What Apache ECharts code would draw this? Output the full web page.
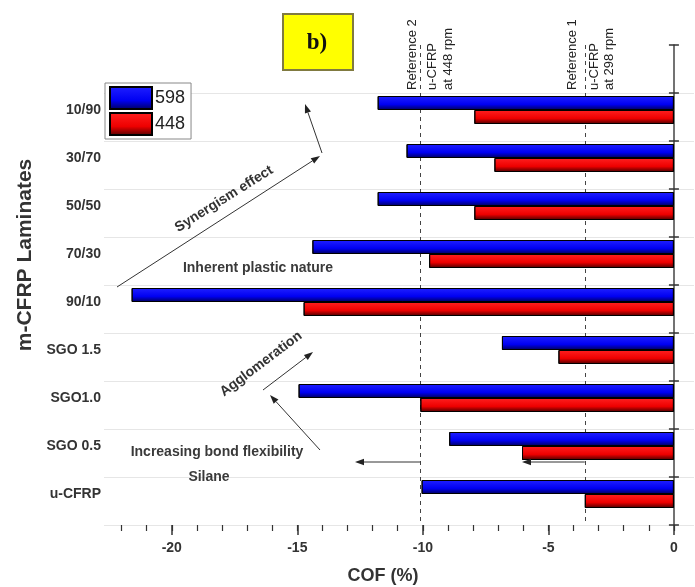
<!DOCTYPE html>
<html>
<head>
<meta charset="utf-8">
<script src="https://cdn.jsdelivr.net/npm/echarts@6/dist/echarts.min.js"></script>
<style>html,body{margin:0;padding:0;background:#fff;}#c{width:695px;height:587px;}</style>
</head>
<body>
<div id="c"></div>
<script>
// ---- data ----
const categories = ['10/90', '30/70', '50/50', '70/30', '90/10', 'SGO 1.5', 'SGO1.0', 'SGO 0.5', 'u-CFRP'];
const cof598 = [-11.8, -10.65, -11.8, -14.4, -21.6, -6.85, -14.95, -8.95, -10.05];
const cof448 = [-7.95, -7.15, -7.95, -9.75, -14.75, -4.6, -10.1, -6.05, -3.55];
const seriesNames = ['598', '448'];
const xMajorTicks = [-20, -15, -10, -5, 0];
const xMinorTicks = [-22, -21, -20, -19, -18, -17, -16, -15, -14, -13, -12, -11, -10, -9, -8, -7, -6, -5, -4, -3, -2, -1, 0];
const referenceValues = [-10.1, -3.55];
const referenceTexts = [
  ['Reference 2', 'u-CFRP', 'at 448 rpm'],
  ['Reference 1', 'u-CFRP', 'at 298 rpm']
];

// ---- chart ----
const FONT = '"Liberation Sans", Arial, sans-serif';
const yCats = [''].concat(categories);
const d598 = [null].concat(cof598);
const d448 = [null].concat(cof448);
const spacer = yCats.map(() => null);

function grad(c0, c1, c2) {
  return { type: 'linear', x: 0, y: 0, x2: 0, y2: 1,
    colorStops: [{ offset: 0, color: c0 }, { offset: 0.6, color: c1 }, { offset: 1, color: c2 }] };
}

const chart = echarts.init(document.getElementById('c'), null, { renderer: 'canvas' });

const option = {
  animation: false,
  backgroundColor: '#fff',
  textStyle: { fontFamily: FONT },
  grid: { left: 104, right: 1, top: 45, bottom: 62, containLabel: false },
  legend: {
    data: seriesNames,
    orient: 'vertical',
    left: 105, top: 83,
    itemWidth: 42, itemHeight: 22, itemGap: 2,
    padding: [3, 6, 3, 4],
    borderColor: '#888', borderWidth: 1,
    backgroundColor: '#fff',
    icon: 'rect',
    textStyle: { fontSize: 18, color: '#222', fontFamily: FONT, padding: [0, 0, 0, -2] }
  },
  xAxis: [
    {
      type: 'value', min: -22.7, max: 0.8, position: 'bottom',
      axisLine: { onZero: false, lineStyle: { color: '#333', width: 1.5 } },
      axisTick: { show: true, customValues: xMinorTicks, length: 6, lineStyle: { color: '#333', width: 1.2 } },
      axisLabel: { customValues: xMajorTicks, fontSize: 14, fontWeight: 'bold', color: '#333', margin: 16, fontFamily: FONT },
      splitLine: { show: false }
    },
    {
      type: 'value', min: -22.7, max: 0.8, position: 'bottom',
      axisLine: { show: false, onZero: false },
      axisTick: { show: true, customValues: xMajorTicks, length: 10, lineStyle: { color: '#333', width: 1.5 } },
      axisLabel: { show: false },
      splitLine: { show: false }
    }
  ],
  yAxis: [
    {
      type: 'category', data: yCats, inverse: true, position: 'left',
      axisLine: { show: false, onZero: false },
      axisTick: { show: false },
      axisLabel: { fontSize: 14, fontWeight: 'bold', color: '#333', margin: 3, verticalAlign: 'bottom', lineHeight: 14, fontFamily: FONT },
      splitLine: { show: true, interval: function (i) { return i > 0; }, lineStyle: { color: '#e6e6e6', width: 1 } }
    },
    {
      type: 'category', data: yCats, inverse: true, position: 'right',
      axisLine: { show: true, onZero: true, onZeroAxisIndex: 0, lineStyle: { color: '#444', width: 1.5 } },
      axisTick: { show: true, inside: false, length: 5, lineStyle: { color: '#333', width: 1.5 } },
      axisLabel: { show: false },
      splitLine: { show: false }
    },
    {
      type: 'category', data: yCats, inverse: true, position: 'right',
      axisLine: { show: false, onZero: true, onZeroAxisIndex: 0 },
      axisTick: { show: true, inside: true, length: 5, lineStyle: { color: '#333', width: 1.5 } },
      axisLabel: { show: false },
      splitLine: { show: false }
    }
  ],
  series: [
    {
      name: seriesNames[0], type: 'bar', data: d598, barWidth: 14, barGap: '0%', z: 3,
      itemStyle: { color: grad('#2020ff', '#0000f2', '#00005a'), borderColor: '#000', borderWidth: 1 }
    },
    {
      name: seriesNames[1], type: 'bar', data: d448, barWidth: 14, barGap: '0%', z: 3,
      itemStyle: { color: grad('#ff2020', '#ee0000', '#4a0000'), borderColor: '#000', borderWidth: 1 }
    },
    {
      name: 'spacer', type: 'bar', data: spacer, barWidth: 14, barGap: '0%', z: 1,
      itemStyle: { color: 'transparent' },
      markLine: {
        silent: true, symbol: 'none', z: 1,
        label: { show: false },
        lineStyle: { color: '#444', width: 1, type: [4, 4] },
        data: referenceValues.map(v => ({ xAxis: v }))
      }
    }
  ]
};
chart.setOption(option);

// ---- annotations ----
function px(v) { return chart.convertToPixel({ xAxisIndex: 0 }, v); }
function arrow(x1, y1, x2, y2) {
  const a = Math.atan2(y2 - y1, x2 - x1), L = 9, W = 3.2;
  const bx = x2 - L * Math.cos(a), by = y2 - L * Math.sin(a);
  return [
    { type: 'line', shape: { x1: x1, y1: y1, x2: bx, y2: by }, style: { stroke: '#333', lineWidth: 1 }, z: 10 },
    { type: 'polygon', shape: { points: [[x2, y2], [bx + W * Math.sin(a), by - W * Math.cos(a)], [bx - W * Math.sin(a), by + W * Math.cos(a)]] },
      style: { fill: '#222' }, z: 10 }
  ];
}
function txt(text, x, y, opts) {
  opts = opts || {};
  return {
    type: 'text', x: x, y: y, rotation: opts.rot || 0, z: 10,
    style: { text: text, fontSize: opts.size || 14, fontWeight: opts.weight || 'bold', fontFamily: opts.family || FONT,
      fill: opts.fill || '#333', align: opts.align || 'center', verticalAlign: 'middle' }
  };
}
const deg = Math.PI / 180;
const r2 = px(referenceValues[0]), r1 = px(referenceValues[1]);
let g = [];
// b) label
g.push({ type: 'rect', shape: { x: 283, y: 14, width: 70, height: 56 }, style: { fill: '#ffff00', stroke: '#807a40', lineWidth: 2 }, z: 10 });
g.push(txt('b)', 317, 43, { size: 23, family: '"Liberation Serif", "DejaVu Serif", serif', fill: '#111' }));
// reference texts
const refOffsets = [[-8, 12, 28], [-12, 10, 25]];
[r2, r1].forEach((r, k) => {
  referenceTexts[k].forEach((t, j) => {
    g.push(txt(t, r + refOffsets[k][j], 90, { rot: 90 * deg, align: 'left', size: 13, weight: 'normal', fill: '#222' }));
  });
});
// axis titles
g.push(txt('m-CFRP Laminates', 25, 255, { rot: 90 * deg, size: 21 }));
g.push(txt('COF (%)', 383, 576, { size: 18 }));
// synergism
g = g.concat(arrow(117, 287, 320, 156));
g = g.concat(arrow(322, 153, 305, 104));
g.push(txt('Synergism effect', 224, 199, { rot: 32 * deg, size: 14 }));
g.push(txt('Inherent plastic nature', 258, 268, { size: 14, fill: '#3a3a3a' }));
// agglomeration
g.push(txt('Agglomeration', 261, 364, { rot: 37 * deg, size: 14 }));
g = g.concat(arrow(263, 390, 313, 352));
g = g.concat(arrow(320, 450, 270, 395));
g.push(txt('Increasing bond flexibility', 217, 452, { size: 14, fill: '#3a3a3a' }));
g.push(txt('Silane', 209, 477, { size: 14, fill: '#3a3a3a' }));
g = g.concat(arrow(r2, 462, 355, 462));
g = g.concat(arrow(r1, 462, 522, 462));
chart.setOption({ graphic: g });
</script>
</body>
</html>
